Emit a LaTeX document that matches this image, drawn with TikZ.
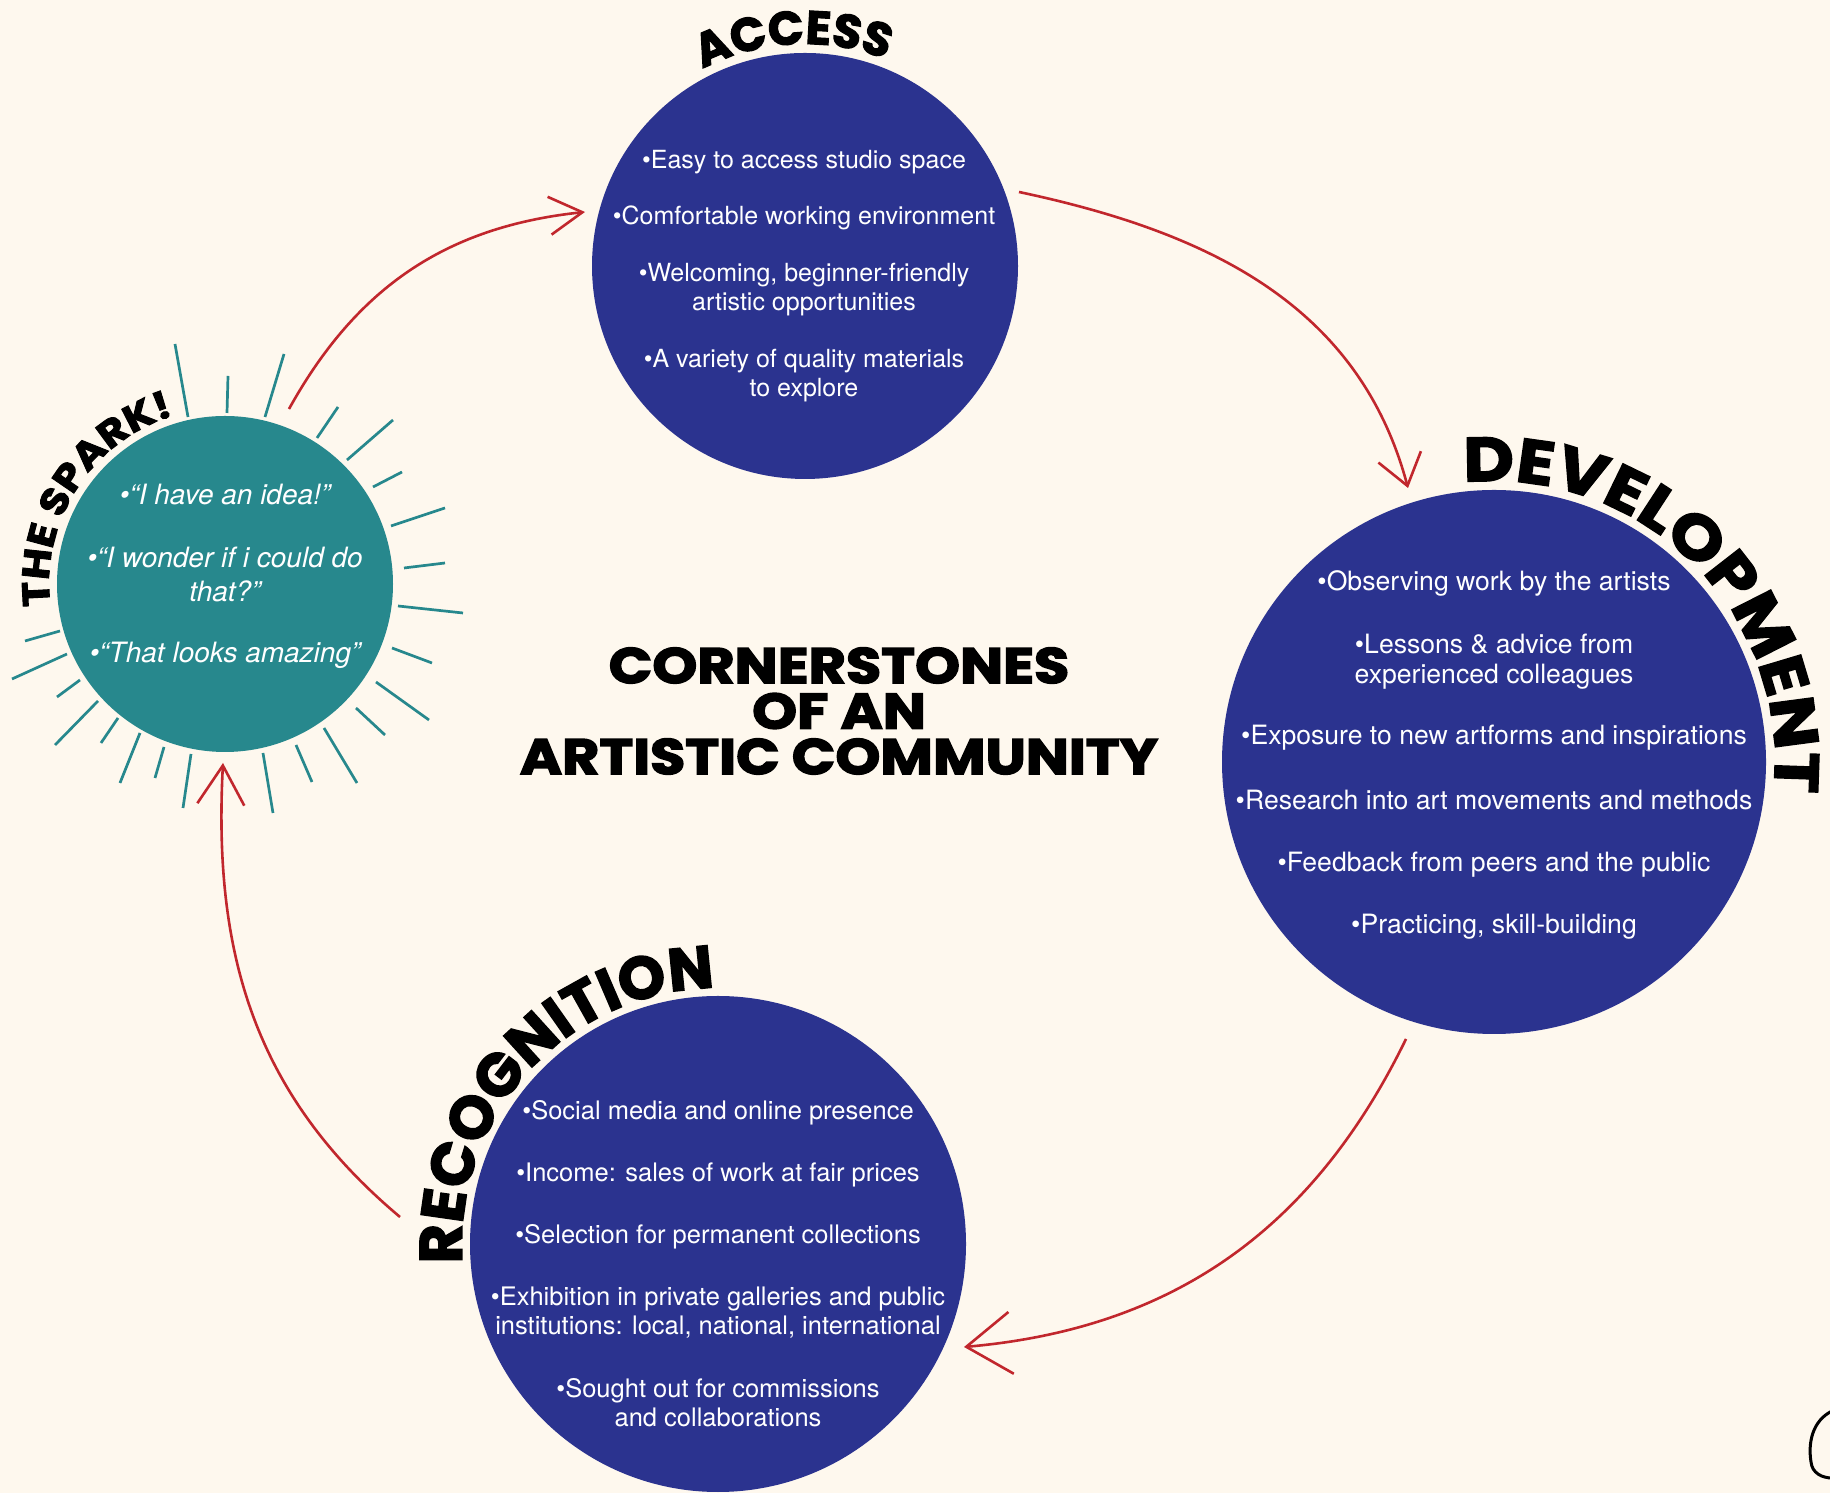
\documentclass[tikz,border=0pt]{standalone}
\usepackage{fontspec}
\setmainfont{TeX Gyre Heros}
\newfontfamily\titlefont{Poppins}[BoldFeatures={FakeBold=2.5}]
\newfontfamily\widetitlefont{Poppins}[BoldFeatures={FakeBold=2.5, FakeStretch=1.12}]
\newfontfamily\maintitlefont{Poppins}[BoldFeatures={FakeBold=3, FakeStretch=1.145}]
\usetikzlibrary{decorations.text, arrows.meta}
\definecolor{bgc}{HTML}{FEF8EE}
\definecolor{circnavy}{HTML}{2B338F}
\definecolor{sparkteal}{HTML}{27888D}
\definecolor{arrowred}{HTML}{C1272D}
\tikzset{
  bigcirc/.style={circle, fill=circnavy, inner sep=0pt},
  sparkcirc/.style={circle, fill=sparkteal, inner sep=0pt},
  item/.style={text=white, align=center, inner sep=0pt, font=\fontsize{25}{29}\selectfont},
  ditem/.style={text=white, align=center, inner sep=0pt, font=\fontsize{26.6}{30.5}\selectfont},
  ritem/.style={text=white, align=center, inner sep=0pt, font=\fontsize{25.5}{29}\selectfont},
  sparkitem/.style={text=white, align=center, inner sep=0pt, font=\itshape\fontsize{28}{34}\selectfont},
  ray/.style={draw=sparkteal, line width=2.7pt},
  flow/.style={draw=arrowred, line width=2.6pt},
  titletxt/.style={align=center, inner sep=0pt, font=\maintitlefont\bfseries\fontsize{50}{45.5}\selectfont},
}
\begin{document}
\begin{tikzpicture}[x=1pt,y=1pt]
\fill[bgc] (0,0) rectangle (1830,1493);
\useasboundingbox (0,0) rectangle (1830,1493);

% rays of the spark
\draw[ray] (175,1149) -- (188,1076);
\draw[ray] (228,1117) -- (227,1080);
\draw[ray] (284,1139) -- (265,1076);
\draw[ray] (338,1086) -- (317,1055);
\draw[ray] (393,1073) -- (347,1033);
\draw[ray] (402,1021) -- (373,1006);
\draw[ray] (445,985) -- (391,967);
\draw[ray] (445,930) -- (404,925);
\draw[ray] (463,880) -- (398,887);
\draw[ray] (432,830) -- (392,845);
\draw[ray] (429,773) -- (376,811);
\draw[ray] (385,758) -- (356,785);
\draw[ray] (357,710) -- (324,765);
\draw[ray] (312,711) -- (296,748);
\draw[ray] (273,680) -- (263,740);
\draw[ray] (183,685) -- (191,739);
\draw[ray] (155,715) -- (164,746);
\draw[ray] (120,710) -- (140,760);
\draw[ray] (101,750) -- (118,775);
\draw[ray] (55,748) -- (98,792);
\draw[ray] (57,796) -- (80,813);
\draw[ray] (12,814) -- (67,839);
\draw[ray] (25,852) -- (60,862);

% circles
\node[bigcirc, minimum size=426pt] (access) at (805,1227) {};
\node[bigcirc, minimum size=544pt] (devel) at (1494,731) {};
\node[bigcirc, minimum size=496pt] (recog) at (718,249) {};
\node[sparkcirc, minimum size=336pt] (spark) at (225,909) {};

% curved titles
\path[decorate, decoration={text along path, text align=center,
  text={|\titlefont\bfseries\fontsize{47}{47}\selectfont|ACCESS}}]
  (access.center) ++(133:222) arc[start angle=133, end angle=53, radius=222];
\path[decorate, decoration={text along path, text align=center,
  text={|\widetitlefont\bfseries\fontsize{62}{62}\selectfont|DEVELOPMENT}}]
  (devel.center) ++(112:281) arc[start angle=112, end angle=-22, radius=281];
\path[decorate, decoration={text along path, text align=center,
  text={|\titlefont\bfseries\fontsize{60}{60}\selectfont|RECOGNITION}}]
  (recog.center) ++(197.5:256) arc[start angle=197.5, end angle=77.5, radius=256];
\path[decorate, decoration={text along path, text align=center,
  text={|\widetitlefont\bfseries\fontsize{38}{38}\selectfont|THE SPARK!}}]
  (spark.center) ++(203:176) arc[start angle=203, end angle=91, radius=176];

% access items
\node[item] (a1) at (804,1331) {•Easy to access studio space};
\node[item] (a2) at (804,1275) {•Comfortable working environment};
\node[item] (a3) at (804,1203) {•Welcoming, beginner-friendly\\artistic opportunities};
\node[item] (a4) at (804,1117) {•A variety of quality materials\\to explore};

% development items
\node[ditem] (d1) at (1494,909.5) {•Observing work by the artists};
\node[ditem] (d2) at (1494,831.5) {•Lessons \& advice from\\experienced colleagues};
\node[ditem] (d3) at (1494,755.5) {•Exposure to new artforms and inspirations};
\node[ditem] (d4) at (1494,692.5) {•Research into art movements and methods};
\node[ditem] (d5) at (1494,628.5) {•Feedback from peers and the public};
\node[ditem] (d6) at (1494,566.5) {•Practicing, skill-building};

% recognition items
\node[ritem] (r1) at (718,380) {•Social media and online presence};
\node[ritem] (r2) at (718,318) {•Income: sales of work at fair prices};
\node[ritem] (r3) at (718,256) {•Selection for permanent collections};
\node[ritem] (r4) at (718,180) {•Exhibition in private galleries and public\\institutions: local, national, international};
\node[ritem] (r5) at (718,90) {•Sought out for commissions\\and collaborations};

% spark items
\node[sparkitem] (s1) at (225,998) {•“I have an idea!”};
\node[sparkitem] (s2) at (225,919) {•“I wonder if i could do\\that?”};
\node[sparkitem] (s3) at (225,838) {•“That looks amazing”};

% centre title
\node[titletxt] (title) at (839,782) {CORNERSTONES\\OF AN\\ARTISTIC COMMUNITY};

% arrow end points
\coordinate (p1s) at (289,1084);
\coordinate (p1e) at (585,1281);
\coordinate (p2s) at (1019,1301);
\coordinate (p2e) at (1408,1005);
\coordinate (p3s) at (1406,454);
\coordinate (p3e) at (964,146);
\coordinate (p4s) at (400,276);
\coordinate (p4e) at (223,730);

\draw[flow, -{Straight Barb[length=33pt,width=38pt]}] (p1s) to[out=61, in=186] (p1e);
\draw[flow, -{Straight Barb[length=30pt,width=44pt]}] (p2s) to[out=-12, in=105] (p2e);
\draw[flow, -{Straight Barb[length=45pt,width=62pt]}] (p3s) to[out=244, in=5] (p3e);
\draw[flow, -{Straight Barb[length=39pt,width=47pt]}] (p4s) to[out=140, in=-93] (p4e);

% corner mark
\draw[line width=3pt, black] (1832,82) .. controls (1812,72) and (1808,50) .. (1811,31) .. controls (1812,20) and (1822,15) .. (1832,15);
\end{tikzpicture}
\end{document}
